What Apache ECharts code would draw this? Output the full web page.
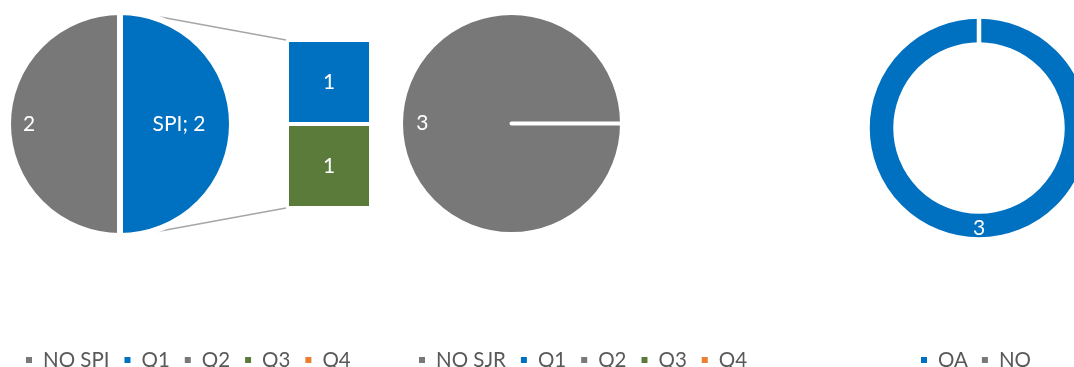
<!DOCTYPE html>
<html><head><meta charset="utf-8">
<script src="https://cdn.jsdelivr.net/npm/echarts@6/dist/echarts.min.js"></script>
<style>html,body{margin:0;padding:0;background:#fff}#c{width:1074px;height:367px}</style>
</head><body><div id="c"></div>
<script>
// ---- data ----
const spiNames = ['NO SPI', 'SPI'];
const spiValues = [2, 2];
const quarterNames = ['Q1', 'Q2', 'Q3', 'Q4'];
const spiQuarterValues = [1, 0, 1, 0];
const sjrNames = ['NO SJR', 'SJR'];
const sjrValues = [3, 0];
const oaNames = ['OA', 'NO'];
const oaValues = [3, 0];
const legend1Items = ['NO SPI', 'Q1', 'Q2', 'Q3', 'Q4'];
const legend2Items = ['NO SJR', 'Q1', 'Q2', 'Q3', 'Q4'];
const legend3Items = ['OA', 'NO'];

// ---- styles / layout ----
const BLUE = '#0070C0', GRAY = '#787878', GREEN = '#5B7B3A', ORANGE = '#ED7D31';
const quarterColors = [BLUE, GRAY, GREEN, ORANGE];
const FONT = 'Lato';
const FS = 21;
const LFS = 20.5;
const P1 = { cx: 120, cy: 124, r: 112, bw: 6 };
const BAR = { left: 287, top: 40, width: 84, height: 168, bw: 2 };
const P2 = { cx: 511.5, cy: 123.5, r: 110.5, bw: 4 };
const P3 = { cx: 979, cy: 128, r0: 83.5, r: 111.5, bw: 4.5 };

const chart = echarts.init(document.getElementById('c'), null, { renderer: 'canvas' });

const labelBase = { color: '#fff', fontFamily: FONT, fontSize: FS };

const pie1Data = spiNames.map((n, i) => ({
  name: n, value: spiValues[i],
  itemStyle: { color: i === 0 ? GRAY : BLUE },
  label: i === 0 ? { formatter: '{c}', padding: [2, 64, 0, 0] } : { formatter: '{b}; {c}', padding: [2, 0, 0, 0] }
}));
const pie2Data = sjrNames.map((n, i) => ({
  name: n, value: sjrValues[i],
  itemStyle: { color: i === 0 ? GRAY : BLUE },
  label: sjrValues[i] ? { formatter: '{c}', padding: [3, 62, 0, 0] } : { show: false }
}));
const pie3Data = oaNames.map((n, i) => ({
  name: n, value: oaValues[i],
  itemStyle: { color: i === 0 ? BLUE : GRAY },
  label: oaValues[i] ? { formatter: '{c}' } : { show: false }
}));

const barSeries = quarterNames.map((q, i) => ({
  type: 'bar', name: q, stack: 'q', barWidth: '100%',
  xAxisIndex: 0, yAxisIndex: 0,
  data: [spiQuarterValues[i]],
  itemStyle: { color: quarterColors[i], borderColor: '#fff', borderWidth: BAR.bw },
  label: { show: true, position: 'inside', ...labelBase,
    formatter: p => (p.value ? String(p.value) : '') },
  silent: true, z: 3
}));

const legendBase = {
  orient: 'horizontal', icon: 'rect', itemWidth: 6, itemHeight: 6, padding: 0,
  top: 347, selectedMode: false,
  itemStyle: { borderWidth: 0 },
  textStyle: { fontFamily: FONT, fontSize: LFS, color: '#595959', padding: [0, 0, 0, 6], lineHeight: 26 }
};

// connector start points on the pie's top/bottom edge, end at bar corners
const rVis = P1.r - P1.bw / 2;
const cStartX = P1.cx + 0.27 * rVis;

chart.setOption({
  animation: false,
  backgroundColor: '#fff',
  grid: { left: BAR.left, top: BAR.top, width: BAR.width, height: BAR.height, show: false },
  xAxis: { type: 'category', data: ['SPI'], show: false },
  yAxis: { type: 'value', min: 0, max: 2, inverse: true, show: false },
  legend: [
    Object.assign({}, legendBase, { data: legend1Items, left: 26, itemGap: 15 }),
    Object.assign({}, legendBase, { data: legend2Items, left: 419, itemGap: 15 }),
    Object.assign({}, legendBase, { data: legend3Items, left: 921, itemGap: 14 })
  ],
  graphic: [
    { type: 'line', z: 0, silent: true,
      shape: { x1: cStartX, y1: P1.cy - rVis, x2: BAR.left - 1, y2: BAR.top },
      style: { stroke: '#A6A6A6', lineWidth: 1.5 } },
    { type: 'line', z: 0, silent: true,
      shape: { x1: cStartX, y1: P1.cy + rVis, x2: BAR.left - 1, y2: BAR.top + BAR.height },
      style: { stroke: '#A6A6A6', lineWidth: 1.5 } }
  ],
  series: [
    { type: 'pie', center: [P1.cx, P1.cy], radius: P1.r, startAngle: -90, clockwise: true,
      data: pie1Data, silent: true, z: 5,
      itemStyle: { borderColor: '#fff', borderWidth: P1.bw },
      label: Object.assign({ position: 'inside' }, labelBase), labelLine: { show: false },
      emphasis: { disabled: true } },
    ...barSeries,
    { type: 'pie', center: [P2.cx, P2.cy], radius: P2.r, startAngle: 0, clockwise: true,
      data: pie2Data, silent: true,
      itemStyle: { borderColor: '#fff', borderWidth: P2.bw },
      label: Object.assign({ position: 'inside' }, labelBase), labelLine: { show: false },
      emphasis: { disabled: true } },
    { type: 'pie', center: [P3.cx, P3.cy], radius: [P3.r0, P3.r], startAngle: 90, clockwise: true,
      data: pie3Data, silent: true,
      itemStyle: { borderColor: '#fff', borderWidth: P3.bw },
      label: Object.assign({ position: 'inside' }, labelBase), labelLine: { show: false },
      emphasis: { disabled: true } }
  ]
});
</script>
</body></html>
